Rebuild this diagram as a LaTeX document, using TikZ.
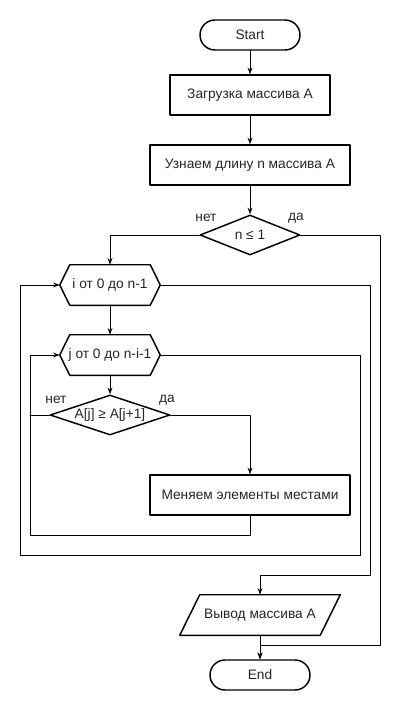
\documentclass[tikz,border=0pt]{standalone}
\usepackage{fontspec}
\setmainfont{Liberation Sans}
\usetikzlibrary{shapes.geometric,arrows.meta,calc}
\begin{document}
\begin{tikzpicture}[line cap=round,line join=round,x=0.75pt,y=-0.75pt,>={Stealth[length=5pt,width=3.6pt]},
 font=\fontsize{10.3}{12}\selectfont, text=black!85,
 shp/.style={line width=1.1pt},
 termbox/.style={shp,draw,rectangle,rounded corners=11.25pt,minimum width=75pt,minimum height=22.5pt},
 procbox/.style={shp,draw,rectangle,minimum height=30pt},
 condbox/.style={shp,draw,diamond,inner sep=0pt,minimum height=30pt},
 plainbox/.style={minimum height=30pt,inner sep=0pt},
 conn/.style={line width=0.75pt}]
 \fill[white] (0,0) rectangle (400,710);
 \useasboundingbox (0,0) rectangle (400,710);
 \node[termbox] (st) at (250,35) {Start};
 \node[procbox,minimum width=120pt] (ld) at (250,95) {Загрузка массива А};
 \node[procbox,minimum width=150pt] (len) at (250,165) {Узнаем длину n массива А};
 \node[condbox,aspect=2.5,minimum width=75pt] (cnd) at (250,235) {n ≤ 1};
 \node[plainbox,minimum width=75pt] (li) at (110,285) {i от 0 до n-1};
 \node[plainbox,minimum width=75pt] (lj) at (110,355) {j от 0 до n-i-1};
 \node[condbox,aspect=3,minimum width=90pt] (cmp) at (110,415) {A[j] ≥ A[j+1]};
 \node[procbox,minimum width=150pt] (sw) at (250,495) {Меняем элементы местами};
 \node[plainbox,minimum width=120pt] (out) at (260,615) {Вывод массива А};
 \node[termbox] (en) at (260,675) {End};
 % loops and output
 \foreach \h in {li,lj}
  \draw[shp] (\h.west) -- ($(\h.north west)+(10,0)$) -- ($(\h.north east)+(-10,0)$) -- (\h.east)
   -- ($(\h.south east)+(-10,0)$) -- ($(\h.south west)+(10,0)$) -- cycle;
 \draw[shp] ($(out.north west)+(20,0)$) -- (out.north east) -- ($(out.south east)+(-20,0)$) -- (out.south west) -- cycle;
 \node at (206,218) {нет};
 \node at (296,218) {да};
 \node at (56,400) {нет};
 \node at (167,400) {да};
 \coordinate (r1) at (380,645);
 \coordinate (r2) at (370,575);
 \coordinate (r3) at (360,555);
 \coordinate (r4) at (20,555);
 \coordinate (r5) at (30,535);
 \draw[conn,->] (st) -- (ld);
 \draw[conn,->] (ld) -- (len);
 \draw[conn,->] (len) -- (cnd);
 \draw[conn,->] (cnd.west) -| (li.north);
 \draw[conn,->] (cnd.east) -| (r1) -| (en.north);
 \draw[conn,->] (li.south) -- (lj.north);
 \draw[conn,->] (li.east) -| (r2) -| (out.north);
 \draw[conn,->] (lj.south) -- (cmp.north);
 \draw[conn,->] (lj.east) -| (r3) -- (r4) |- (li.west);
 \draw[conn,->] (cmp.east) -| (sw.north);
 \draw[conn,->] (sw.south) |- (r5) |- (lj.west);
 \draw[conn] (cmp.west) -- (cmp.west -| r5);
 \draw[conn,->] (out.south) -- (en.north);
\end{tikzpicture}
\end{document}
